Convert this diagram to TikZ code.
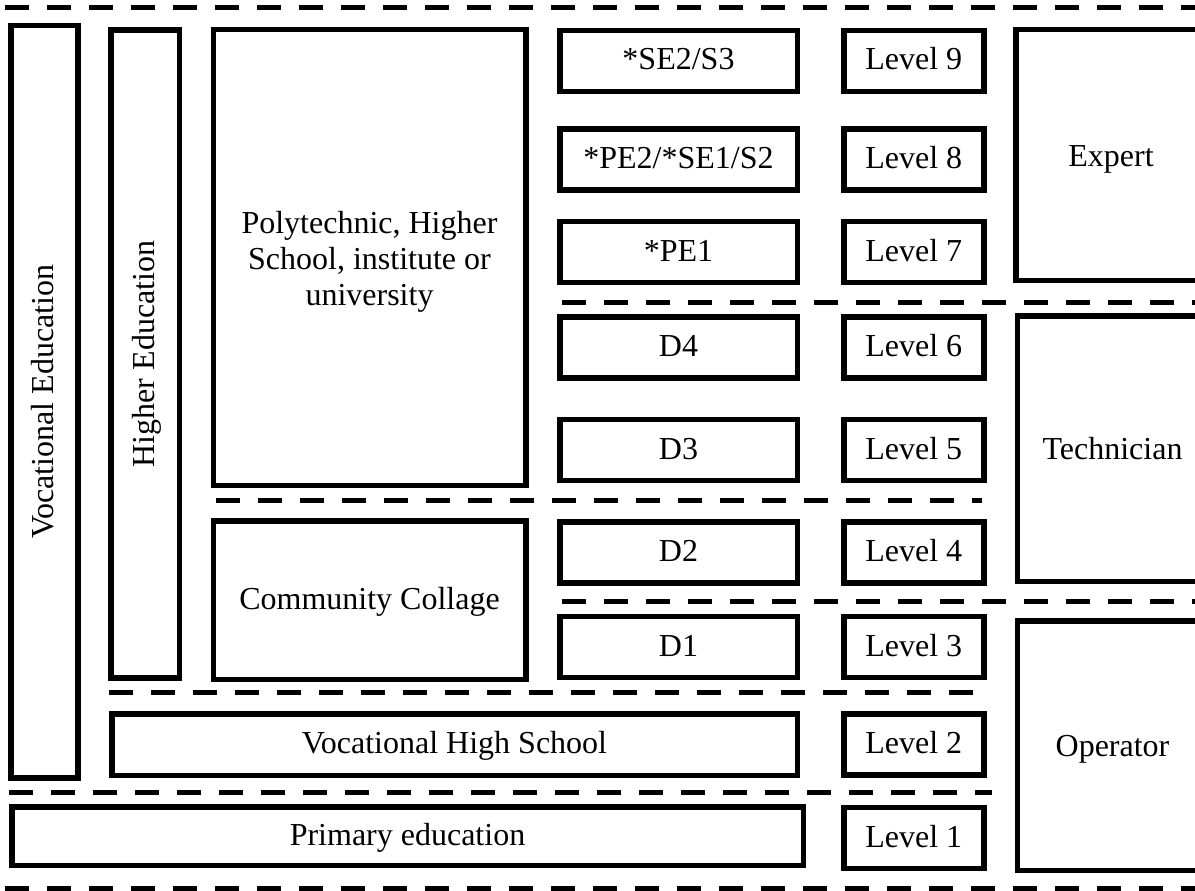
\documentclass[tikz,border=0pt]{standalone}
\usepackage{fontspec}
\setmainfont{Liberation Serif}
\begin{document}
\begin{tikzpicture}[x=1pt,y=-1pt,
  box/.style={draw, line width=5.5pt, inner sep=0pt, align=center,
    font=\fontsize{32}{36}\selectfont},
  onel/.style={text height=24pt, text depth=6pt},
  sep/.style={line width=5pt, dash pattern=on 24pt off 18pt},
  midbox/.style={box, onel, minimum width=237.5pt, minimum height=61pt},
  lvlbox/.style={box, onel, minimum width=140pt, minimum height=61pt},
  rightbox/.style={box, minimum width=190pt, text height=27pt, text depth=5pt}]
\useasboundingbox (0,0) rectangle (1195,891);
\clip (0,0) rectangle (1195,891);

% separators
\draw[sep] (5,8) -- (1195,8);
\draw[sep] (562,302) -- (1195,302);
\draw[sep] (216,500) -- (982,500);
\draw[sep] (562,601) -- (1195,601);
\draw[sep] (109,692) -- (973,692);
\draw[sep] (9,792) -- (992,792);
\draw[sep] (5,888) -- (1195,888);

% left columns
\node[box, onel, rotate=90, minimum width=752.5pt, minimum height=67pt] (voced) at (44.5,401.75) {Vocational Education};
\node[box, onel, rotate=90, minimum width=648pt, minimum height=68.5pt] (highered) at (145,354) {Higher Education};

\node[box, minimum width=312.5pt, minimum height=455.5pt] (poly) at (369.5,257.5)
  {\raisebox{-5pt}[\height][\depth]{\setlength{\tabcolsep}{0pt}\begin{tabular}{c}Polytechnic, Higher\\School, institute or\\university\end{tabular}}};
\node[box, onel, minimum width=312.5pt, minimum height=158.5pt] (comm) at (369.5,600) {Community Collage};

\node[box, onel, minimum width=685.5pt, minimum height=61.5pt] (vochs) at (454.5,744.5) {Vocational High School};
\node[box, onel, minimum width=791.5pt, minimum height=58.5pt] (primary) at (407.5,836) {Primary education};

% middle column
\node[midbox] (s9) at (678.5,61) {*SE2/S3};
\node[midbox] (s8) at (678.5,159.5) {*PE2/*SE1/S2};
\node[midbox] (s7) at (678.5,252) {*PE1};
\node[midbox] (d4) at (678.5,347.5) {D4};
\node[midbox] (d3) at (678.5,450) {D3};
\node[midbox] (d2) at (678.5,552.5) {D2};
\node[midbox] (d1) at (678.5,647) {D1};

% levels
\node[lvlbox] (l9) at (913.75,61) {Level 9};
\node[lvlbox] (l8) at (913.75,159.5) {Level 8};
\node[lvlbox] (l7) at (913.75,252) {Level 7};
\node[lvlbox] (l6) at (913.75,347.5) {Level 6};
\node[lvlbox] (l5) at (913.75,450) {Level 5};
\node[lvlbox] (l4) at (913.75,552.5) {Level 4};
\node[lvlbox] (l3) at (913.75,647) {Level 3};
\node[lvlbox] (l2) at (913.75,744.5) {Level 2};
\node[lvlbox] (l1) at (913.75,838) {Level 1};

% right column
\node[rightbox, minimum height=250.5pt] (expert) at (1111,155) {Expert};
\node[rightbox, minimum height=265.5pt] (tech) at (1112.5,448.5) {Technician};
\node[rightbox, minimum height=249.5pt] (oper) at (1112.5,745.5) {Operator};
\end{tikzpicture}
\end{document}
